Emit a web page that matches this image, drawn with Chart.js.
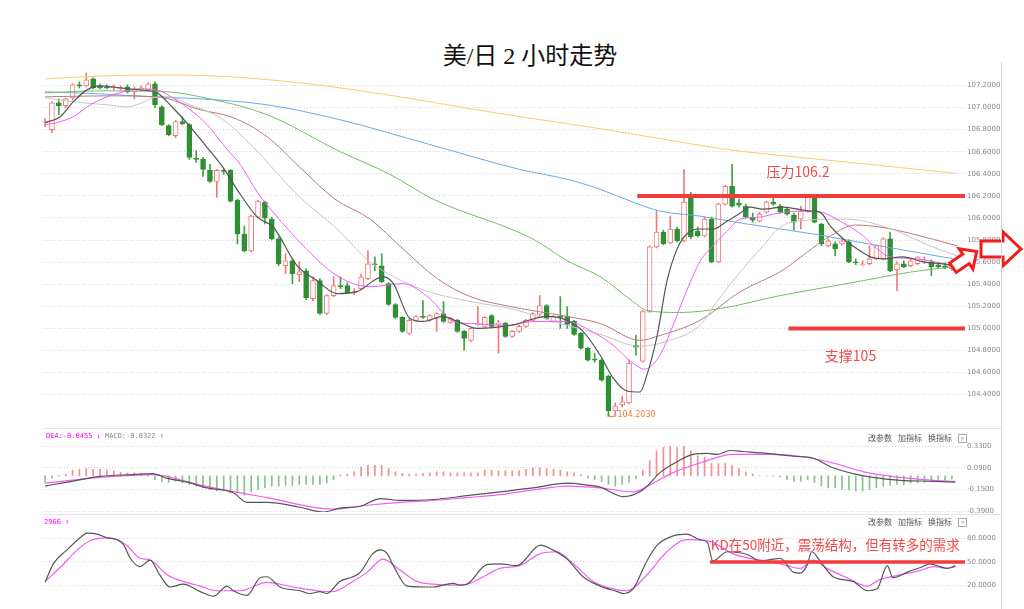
<!DOCTYPE html>
<html>
<head>
<meta charset="utf-8">
<script src="https://cdn.jsdelivr.net/npm/chart.js@4.4.0/dist/chart.umd.min.js"></script>
<style>
  body { margin: 0; background: #fff; width: 1024px; height: 609px; overflow: hidden; position: relative; }
  canvas { position: absolute; left: 0; }
  #title { position: absolute; left: 0; width: 1060px; top: 36px; text-align: center;
           font: 24px "Liberation Serif", "Noto Sans CJK SC", serif; color: #111; }
  .sep { position: absolute; background: #e4e4e4; }
  .head { position: absolute; font: 7px "DejaVu Sans Mono", monospace; white-space: nowrap; }
  .tools { position: absolute; left: 868px; font: 8px "Noto Sans CJK SC", sans-serif; color: #555; white-space: nowrap; }
  .tools span { margin-right: 6px; }
  .tools b { display: inline-block; width: 7px; height: 7px; border: 1px solid #aaa; font: 6px sans-serif;
             line-height: 7px; text-align: center; color: #888; font-weight: normal; vertical-align: middle; }
</style>
</head>
<body>
<div id="title">美/日 2 小时走势</div>
<canvas id="main" width="1024" height="368" style="top:60px"></canvas>
<canvas id="macd" width="1024" height="92" style="top:428px"></canvas>
<canvas id="kd" width="1024" height="95" style="top:514px"></canvas>
<div class="sep" style="left:43px;top:428px;width:958px;height:1px"></div>
<div class="sep" style="left:43px;top:514px;width:958px;height:1px"></div>
<div class="sep" style="left:1001px;top:62px;width:1px;height:547px;background:#d6d6d6"></div>
<div class="head" style="left:46px;top:432px"><span style="color:#f0f">DEA:-0.0455 ↓</span> <span style="color:#888">MACD:-0.0322 ↑</span></div>
<div class="head" style="left:44px;top:518px;color:#f0f">2966 ↑</div>
<div class="tools" style="top:432px"><span>改参数</span><span>加指标</span><span>换指标</span><b>×</b></div>
<div class="tools" style="top:516px"><span>改参数</span><span>加指标</span><span>换指标</span><b>×</b></div>
<script>
// 2h candles, oldest first
const openP = [106.863,106.8,107.043,107.016,107.088,107.205,107.196,107.259,107.196,107.187,
  107.178,107.169,107.187,107.142,107.169,107.16,107.214,107.007,106.836,106.746,
  106.872,106.845,106.539,106.53,106.431,106.332,106.431,106.431,106.161,105.855,
  105.702,106.008,106.143,105.99,105.81,105.567,105.612,105.486,105.522,105.27,
  105.432,105.135,105.297,105.387,105.387,105.324,105.36,105.45,105.585,105.567,
  105.405,105.216,105.099,104.955,105.072,105.108,105.072,105.09,105.135,105.054,
  105.072,104.973,104.892,105.036,105.018,105.117,105.036,105.045,104.928,104.973,
  105.018,105.072,105.126,105.207,105.063,105.108,105.108,105.063,104.955,104.82,
  104.721,104.712,104.568,104.253,104.307,104.325,104.847,104.703,105.153,105.738,
  105.873,105.774,105.9,105.792,106.215,105.882,105.837,105.99,105.603,106.125,
  106.287,106.134,106.107,106.008,105.972,106.053,106.143,106.107,106.08,106.026,
  105.99,106.062,106.197,105.945,105.747,105.765,105.765,105.783,105.603,105.576,
  105.585,105.63,105.63,105.81,105.531,105.585,105.567,105.585,105.612,105.603,
  105.576,105.567,105.54];
const highP = [106.899,107.052,107.079,107.088,107.214,107.232,107.313,107.268,107.214,107.205,
  107.205,107.196,107.205,107.187,107.196,107.223,107.232,107.016,106.845,106.881,
  106.917,106.854,106.611,106.548,106.485,106.44,106.44,106.44,106.17,105.927,
  106.026,106.161,106.152,106.008,105.828,105.675,105.63,105.603,105.54,105.468,
  105.45,105.306,105.468,105.468,105.414,105.36,105.495,105.702,105.648,105.675,
  105.414,105.225,105.108,105.081,105.117,105.252,105.126,105.144,105.243,105.099,
  105.081,104.982,105.009,105.198,105.108,105.126,105.072,105.054,104.982,105.027,
  105.081,105.144,105.297,105.216,105.117,105.288,105.198,105.072,104.964,104.829,
  104.775,104.721,104.577,104.325,104.388,104.712,104.937,105.162,105.747,106.062,
  105.891,106.017,105.918,106.44,106.233,105.918,106.008,106.008,106.134,106.296,
  106.485,106.17,106.125,106.044,106.053,106.152,106.197,106.125,106.098,106.044,
  106.107,106.215,106.206,105.954,105.81,105.783,105.81,105.801,105.63,105.612,
  105.747,105.756,105.819,105.873,105.603,105.612,105.63,105.648,105.648,105.621,
  105.594,105.594,105.603];
const lowP = [106.827,106.773,106.935,106.998,107.07,107.178,107.187,107.169,107.169,107.169,
  107.16,107.16,107.133,107.079,107.16,107.151,106.998,106.836,106.746,106.728,
  106.845,106.53,106.503,106.377,106.323,106.188,106.395,106.143,105.765,105.693,
  105.693,105.999,105.945,105.801,105.567,105.495,105.405,105.423,105.261,105.252,
  105.126,105.126,105.288,105.36,105.315,105.306,105.351,105.441,105.522,105.414,
  105.207,105.09,104.964,104.946,105.063,105.09,105.063,104.973,105.054,105.045,
  104.964,104.802,104.883,105.027,105.009,105.009,104.775,104.919,104.919,104.964,
  105.009,105.063,105.117,105.081,105.054,105.0,105.0,104.937,104.811,104.703,
  104.694,104.523,104.203,104.208,104.289,104.316,104.757,104.694,105.144,105.729,
  105.756,105.765,105.783,105.783,105.81,105.828,105.828,105.594,105.594,106.116,
  106.098,106.098,105.999,105.963,105.963,106.044,106.116,106.044,106.026,105.891,
  105.9,106.053,105.954,105.747,105.738,105.657,105.756,105.594,105.576,105.567,
  105.576,105.621,105.621,105.513,105.342,105.549,105.558,105.576,105.585,105.477,
  105.54,105.54,105.522];
const closeP = [106.872,107.043,107.016,107.079,107.205,107.196,107.25,107.178,107.178,107.178,
  107.187,107.178,107.142,107.169,107.178,107.214,107.025,106.845,106.755,106.872,
  106.854,106.548,106.53,106.44,106.332,106.431,106.422,106.152,105.855,105.702,
  106.017,106.152,105.999,105.81,105.585,105.612,105.495,105.513,105.279,105.432,
  105.135,105.297,105.387,105.378,105.324,105.333,105.468,105.585,105.576,105.423,
  105.216,105.099,104.973,105.072,105.108,105.099,105.117,105.135,105.063,105.09,
  104.973,104.91,105.0,105.045,105.099,105.018,105.045,104.928,104.973,105.018,
  105.072,105.135,105.207,105.09,105.108,105.099,105.036,104.946,104.82,104.712,
  104.712,104.532,104.253,104.298,104.334,104.685,104.829,105.153,105.738,105.873,
  105.765,105.9,105.792,106.143,105.828,105.837,105.99,105.603,106.125,106.287,
  106.107,106.116,106.008,105.981,106.035,106.143,106.125,106.053,106.035,105.963,
  106.062,106.197,105.963,105.765,105.792,105.72,105.792,105.603,105.594,105.585,
  105.63,105.747,105.81,105.522,105.585,105.558,105.612,105.648,105.621,105.558,
  105.558,105.549,105.573];

// moving averages: [bar position, price]
const ma5 = [[0,106.863],[2.2,106.917],[4.1,107.052],[6.1,107.16],[8,107.196],[10.9,107.178],[13.8,107.16],
  [16.3,107.133],[18.6,106.998],[21.1,106.827],[23.6,106.638],[25.9,106.458],[28.4,106.215],[30.9,106.008],
  [33.2,105.918],[36.7,105.567],[39.6,105.432],[42.5,105.315],[45.4,105.333],[49.2,105.468],[50.7,105.405],
  [53.1,105.09],[55,105.063],[57.9,105.108],[60,105.063],[62.9,105.0],[67.7,105.027],[73.1,105.108],
  [76,105.072],[78.3,104.973],[80.8,104.757],[82.7,104.55],[84.7,104.433],[86.6,104.424],[87.6,104.577],
  [89.1,104.937],[90.5,105.423],[92,105.72],[93.4,105.855],[95.3,105.9],[97.2,105.9],[99.3,105.972],
  [101.2,106.044],[102.6,106.098],[104.5,106.08],[107.4,106.098],[111.4,106.062],[112.8,106.053],
  [114.3,105.927],[116.2,105.81],[118.2,105.72],[120.1,105.648],[122,105.63],[124.9,105.648],
  [127.8,105.603],[130.7,105.585],[132.8,105.567]];
const ma10 = [[0,106.845],[1.7,106.863],[4.1,106.917],[6.6,107.025],[9,107.097],[11.4,107.142],[13.8,107.169],
  [16.3,107.16],[18.6,107.088],[21.1,106.98],[23.6,106.845],[25.9,106.665],[28.4,106.485],[30.9,106.233],
  [33.2,106.053],[37.6,105.747],[42.5,105.477],[47.3,105.378],[52.1,105.405],[56,105.27],[59.4,105.063],
  [61.9,105.045],[67.7,105.027],[71,105.063],[76,105.063],[79.3,104.982],[82.7,104.847],[85.2,104.703],
  [87.3,104.631],[89.5,104.757],[91.4,105.027],[93.4,105.342],[95.3,105.603],[97.2,105.747],[99.3,105.882],
  [101.2,105.99],[104.1,106.008],[106,106.035],[109.5,106.062],[112.8,106.053],[115.7,105.972],
  [119.1,105.837],[121.1,105.72],[123,105.648],[126.9,105.63],[130.7,105.585],[132.5,105.558]];
const ma20 = [[0,107.088],[4.1,107.052],[9,107.025],[11.9,107.007],[13.8,107.034],[15.7,107.088],[17.8,107.097],
  [21.1,107.025],[25.9,106.89],[30.9,106.602],[34.2,106.377],[37.1,106.188],[42.5,105.9],[47.3,105.603],
  [54.6,105.36],[61.9,105.243],[67.7,105.18],[76,105.027],[80.8,104.946],[86.6,104.838],[90.5,104.883],
  [95.3,105.027],[97.8,105.243],[101.2,105.513],[104.5,105.747],[107,105.918],[109.5,105.972],
  [116.7,105.99],[119.1,105.972],[124,105.882],[128.8,105.747],[132.8,105.657]];
const ma30 = [[0,107.097],[9,107.106],[16.3,107.097],[22.6,106.98],[27.4,106.908],[32.3,106.737],[37.1,106.458],
  [42.2,106.17],[47.3,105.99],[52.1,105.72],[57.1,105.45],[61.9,105.288],[67.7,105.198],[76,105.108],
  [80.8,105.045],[86.6,104.892],[89.1,104.928],[95.3,105.072],[101.2,105.333],[107,105.513],
  [114.3,105.837],[117.9,105.936],[121.5,105.918],[126.3,105.855],[132.8,105.747]];
const ma60 = [[0,107.133],[8,107.151],[17.8,107.142],[22.6,107.097],[32.3,106.935],[42.9,106.602],[50.2,106.395],
  [56.5,106.17],[71,105.81],[76,105.612],[80.8,105.468],[85.6,105.243],[87.6,105.162],[92.4,105.144],
  [98.3,105.18],[107,105.297],[116.7,105.405],[126.3,105.513],[132.2,105.558]];
const ma120 = [[0,107.142],[8,107.124],[15.7,107.097],[22.6,107.079],[32.3,107.025],[42.9,106.89],[56,106.665],
  [69.1,106.44],[76,106.35],[80.8,106.26],[85.6,106.143],[89.5,106.062],[95.3,106.017],[102.2,105.945],
  [111.8,105.855],[121.5,105.747],[132.2,105.63]];
const ma250 = [[0,107.259],[8,107.286],[17.8,107.295],[27.4,107.277],[37.1,107.223],[42.9,107.178],[51.7,107.097],
  [61.9,106.989],[72.1,106.89],[80.8,106.809],[89.5,106.719],[99.3,106.62],[109.9,106.548],[121.5,106.476],
  [132.5,106.404]];
const priceTicks = [104.4,104.6,104.8,105.0,105.2,105.4,105.6,105.8,106.0,106.2,106.4,106.6,106.8,107.0,107.2];

// MACD histogram, one per bar
const macdHist = [-0.071,-0.027,0.005,0.021,0.064,0.072,0.082,0.072,0.072,0.064,
  0.057,0.04,0.035,0.035,0.029,0.021,-0.043,-0.061,-0.072,-0.061,
  -0.078,-0.096,-0.114,-0.132,-0.15,-0.168,-0.168,-0.185,-0.185,-0.214,
  -0.179,-0.15,-0.132,-0.114,-0.114,-0.107,-0.107,-0.096,-0.096,-0.096,
  -0.096,-0.078,-0.043,0.011,0.021,0.046,0.1,0.118,0.118,0.118,
  0.082,0.046,0.029,0.021,0.021,0.029,0.035,0.046,0.046,0.035,
  0.035,0.035,0.035,0.035,0.064,0.064,0.057,0.057,0.057,0.057,
  0.072,0.093,0.093,0.082,0.072,0.064,0.046,0.035,0.011,-0.025,
  -0.043,-0.061,-0.096,-0.114,-0.096,-0.072,-0.035,0.064,0.171,0.278,
  0.314,0.332,0.314,0.332,0.278,0.225,0.207,0.136,0.136,0.142,
  0.118,0.082,0.046,0.021,0,0,-0.007,-0.011,-0.043,-0.061,
  -0.061,-0.043,-0.072,-0.114,-0.132,-0.132,-0.15,-0.157,-0.168,-0.168,
  -0.15,-0.132,-0.114,-0.107,-0.096,-0.096,-0.078,-0.078,-0.072,-0.061,
  -0.05,-0.043,-0.035];
const macdDif = [[0,-0.113],[3.2,-0.07],[8,-0.006],[12.8,0.015],[15.7,0.026],[17.8,-0.028],[20.7,-0.07],
  [23.6,-0.134],[27.4,-0.188],[29.4,-0.294],[32.3,-0.294],[37.1,-0.348],[40.5,-0.401],[42.9,-0.358],
  [45.9,-0.337],[48.8,-0.252],[51.7,-0.273],[56.5,-0.262],[61.4,-0.22],[66.2,-0.177],[71,-0.134],
  [76,-0.081],[78.9,-0.102],[80.8,-0.124],[84.1,-0.23],[87,-0.156],[89.5,0.036],[91.4,0.132],
  [94.3,0.239],[96.4,0.25],[97.8,0.239],[99.7,0.282],[101.6,0.271],[105.1,0.25],[108.9,0.218],
  [111.8,0.196],[114.7,0.09],[117.6,0.026],[120.5,-0.017],[124.5,-0.049],[129.3,-0.06],[132.5,-0.07]];
const macdDea = [[0,-0.081],[8,-0.017],[15.7,0.015],[22.6,-0.102],[32.3,-0.241],[41.9,-0.369],[46.9,-0.326],
  [51.7,-0.294],[56.5,-0.273],[61.4,-0.241],[66.2,-0.209],[71,-0.156],[76,-0.113],[80.8,-0.134],
  [85.6,-0.177],[88.5,-0.081],[91.4,0.036],[95.3,0.143],[100.1,0.239],[105.1,0.239],[109.9,0.218],
  [114.7,0.143],[119.7,0.036],[124.5,-0.017],[129.3,-0.049],[132.5,-0.06]];
const macdTicks = [0.33, 0.09, -0.15, -0.39];

const kdK = [[0,24.1],[1.2,47.6],[3.2,65.3],[5.1,80.6],[6.1,86.5],[7.6,85.3],[9,80.6],[10.5,78.2],[11.4,72.3],
  [12.4,54.7],[13.8,44.1],[15.3,52.4],[16.7,33.5],[18.2,18.2],[20.1,21.8],[22.6,12.4],[24.5,6.5],[26.5,19.4],
  [27.4,13.5],[29.4,7.7],[31.3,30],[32.3,31.2],[34.2,18.2],[37.1,13.5],[38.6,10],[40,12.4],[41,10],
  [42.9,25.3],[44.8,31.2],[45.9,37.1],[47.7,60.6],[48.8,65.3],[49.8,60.6],[50.7,45.3],[52.7,19.4],
  [56.5,18.2],[59.4,22.9],[60.4,20.6],[61.4,21.8],[64.3,46.5],[66.2,47.6],[68.7,45.3],[72.1,71.2],
  [73.9,65.3],[76,53.5],[78.3,31.2],[80.8,19.4],[83.3,12.4],[84.1,10],[85.6,15.9],[87.6,51.2],
  [89.1,71.2],[91.4,82.9],[93.4,85.3],[95.3,78.2],[96.4,74.7],[97.2,51.2],[99.3,62.9],[102.2,59.4],
  [104.1,51.2],[106,53.5],[107,54.7],[108.9,37.1],[109.9,35.9],[110.9,45.3],[111.6,62.9],[112.8,51.2],
  [114.7,31.2],[117.6,25.3],[119.7,13.5],[121.1,15.9],[122.6,45.3],[123.4,30],[125.5,37.1],[127.4,42.9],
  [128.8,47.6],[130.3,44.1],[131.3,41.8],[132.5,45.3]];
const kdD = [[0,25.3],[2.2,42.9],[4.7,65.3],[6.6,77.1],[9,80.6],[10.5,78.2],[11.9,71.2],[13.8,54.7],[15.3,52.4],
  [17.8,33.5],[20.1,25.3],[22.6,19.4],[25,13.5],[28.4,13.5],[32.3,24.1],[36.1,18.2],[39.6,13.5],[41.9,12.4],
  [44.8,25.3],[46.9,37.1],[49.2,53.5],[51.7,39.4],[54.1,25.3],[56.5,21.8],[59.4,20.6],[61.4,21.8],
  [64.3,33.5],[66.2,41.8],[69.1,45.3],[72.1,60.6],[74.5,62.9],[76.9,47.6],[79.8,25.3],[82.7,15.9],
  [84.7,13.5],[87.6,33.5],[90.5,62.9],[93.4,78.2],[96.4,77.1],[100.1,60.6],[103.1,53.5],[105.1,51.2],
  [108,45.3],[109.9,41.8],[111.8,52.4],[113.8,41.8],[116.7,30],[119.7,19.4],[121.5,27.6],[124.5,33.5],
  [127.4,39.4],[129.3,44.1],[131.3,41.8],[132.5,44.1]];
const kdTicks = [80, 50, 20];

// notes drawn on the chart
const resistLevel = 106.2, resistFrom = 86.2, resistText = "压力106.2", resistTextAt = [105, 106.42];
const supportLevel = 105.0, supportFrom = 108.2, supportText = "支撑105", supportTextAt = [113.5, 104.757];
const lowIdx = 82, lowText = "104.2030";
const kdLevel = 50, kdFrom = 96.8, kdText = "KD在50附近，震荡结构，但有转多的需求", kdTextAt = [96.9, 71.2];

const RED = "#f07a7a", GREEN = "#2f8f35", NOTE = "#f23c3c";
const xMin = -0.3, xMax = 133.9;
const bars = openP.map((_, i) => i);
const isUp = (i) => closeP[i] >= openP[i];
const pts = (arr) => arr.map(([x, y]) => ({ x, y }));

function maLine(arr, color, width) {
  return {
    type: "line",
    data: pts(arr),
    borderColor: color,
    borderWidth: width || 1,
    pointRadius: 0,
    cubicInterpolationMode: "monotone"
  };
}

function rightAxis(min, max, ticks, fmt) {
  return {
    position: "right",
    min,
    max,
    afterBuildTicks: (scale) => { scale.ticks = ticks.map((v) => ({ value: v })); },
    afterFit: (scale) => { scale.width = 35; },
    ticks: {
      callback: fmt,
      font: { size: 7, family: "DejaVu Sans" },
      color: "#888",
      padding: 2
    },
    grid: { color: "#d4d4d4", drawTicks: false },
    border: { display: false, dash: [1, 2] }
  };
}

function baseOptions(padTop, padBottom, yAxis) {
  return {
    animation: false,
    responsive: false,
    layout: { padding: { left: 43, right: 24, top: padTop, bottom: padBottom } },
    plugins: { legend: { display: false }, tooltip: { enabled: false } },
    scales: {
      x: { type: "linear", min: xMin, max: xMax, display: false, offset: false },
      y: yAxis
    }
  };
}

function drawArrow(ctx, cx, cy, angle, k) {
  const shape = [[-22, -8], [0, -8], [0, -17], [18, 0], [0, 17], [0, 8], [-22, 8]];
  ctx.save();
  ctx.translate(cx, cy);
  ctx.rotate(angle);
  ctx.scale(k, k);
  ctx.beginPath();
  shape.forEach(([px, py], n) => (n ? ctx.lineTo(px, py) : ctx.moveTo(px, py)));
  ctx.closePath();
  ctx.fillStyle = "#fff";
  ctx.fill();
  ctx.lineWidth = 3 / k;
  ctx.strokeStyle = "#f01e1e";
  ctx.lineJoin = "miter";
  ctx.stroke();
  ctx.restore();
}

const mainNotes = {
  id: "mainNotes",
  afterDraw(chart) {
    const { ctx, chartArea: a, scales: { x, y } } = chart;
    ctx.save();
    ctx.strokeStyle = NOTE;
    ctx.lineWidth = 4;
    [[resistLevel, resistFrom], [supportLevel, supportFrom]].forEach(([lvl, from]) => {
      const py = y.getPixelForValue(lvl);
      ctx.beginPath();
      ctx.moveTo(x.getPixelForValue(from), py);
      ctx.lineTo(a.right, py);
      ctx.stroke();
    });
    ctx.fillStyle = "#f24a4a";
    ctx.font = "14px 'Noto Sans CJK SC'";
    ctx.textBaseline = "middle";
    ctx.fillText(resistText, x.getPixelForValue(resistTextAt[0]), y.getPixelForValue(resistTextAt[1]));
    ctx.fillText(supportText, x.getPixelForValue(supportTextAt[0]), y.getPixelForValue(supportTextAt[1]));

    // lowest price tag
    const lx = x.getPixelForValue(lowIdx), ly = y.getPixelForValue(lowP[lowIdx]);
    ctx.strokeStyle = "#f07a30";
    ctx.lineWidth = 1;
    ctx.beginPath();
    ctx.moveTo(lx + 1, ly - 2);
    ctx.lineTo(lx + 1, ly);
    ctx.lineTo(lx + 7, ly);
    ctx.stroke();
    ctx.fillStyle = "#f07a30";
    ctx.font = "8px 'DejaVu Sans'";
    ctx.fillText(lowText, lx + 9, ly - 1);

    drawArrow(ctx, a.right + 38, y.getPixelForValue(105.72), 0, 1);
    drawArrow(ctx, a.right + 1, y.getPixelForValue(105.63), -0.6, 0.72);
    ctx.restore();
  }
};

const kdNotes = {
  id: "kdNotes",
  afterDatasetsDraw(chart) {
    const { ctx, chartArea: a, scales: { x, y } } = chart;
    ctx.save();
    ctx.strokeStyle = NOTE;
    ctx.lineWidth = 3.5;
    const py = y.getPixelForValue(kdLevel);
    ctx.beginPath();
    ctx.moveTo(x.getPixelForValue(kdFrom), py);
    ctx.lineTo(a.right, py);
    ctx.stroke();
    ctx.fillStyle = "#f24a4a";
    ctx.font = "13.5px 'Noto Sans CJK SC'";
    ctx.textBaseline = "middle";
    ctx.fillText(kdText, x.getPixelForValue(kdTextAt[0]), y.getPixelForValue(kdTextAt[1]));
    ctx.restore();
  }
};

new Chart(document.getElementById("main"), {
  type: "bar",
  data: {
    datasets: [
      maLine(ma5, "#555", 1.2),
      maLine(ma10, "#f55cf5"),
      maLine(ma20, "#c6c6c6"),
      maLine(ma30, "#b77c7c"),
      maLine(ma60, "#70bf60"),
      maLine(ma120, "#68ace6"),
      maLine(ma250, "#ffc870"),
      {
        type: "bar",
        data: bars.map((i) => ({ x: i, y: [openP[i], closeP[i]] })),
        backgroundColor: (c) => (isUp(c.dataIndex) ? "#fff" : GREEN),
        borderColor: (c) => (isUp(c.dataIndex) ? RED : GREEN),
        borderWidth: 1,
        borderSkipped: false,
        barThickness: 5,
        minBarLength: 1,
        grouped: false
      },
      {
        type: "bar",
        data: bars.map((i) => ({ x: i, y: [lowP[i], highP[i]] })),
        backgroundColor: (c) => (isUp(c.dataIndex) ? RED : "#45a045"),
        barThickness: 1,
        grouped: false
      }
    ]
  },
  options: baseOptions(10, 4, rightAxis(104.154, 107.34, priceTicks, (v) => v.toFixed(4))),
  plugins: [mainNotes]
});

new Chart(document.getElementById("macd"), {
  type: "bar",
  data: {
    datasets: [
      maLine(macdDif, "#555", 1.2),
      maLine(macdDea, "#f55cf5", 1.2),
      {
        type: "bar",
        data: bars.map((i) => ({ x: i, y: macdHist[i] })),
        backgroundColor: (c) => (macdHist[c.dataIndex] >= 0 ? "#f29090" : "#86c486"),
        barThickness: 1,
        grouped: false
      }
    ]
  },
  options: baseOptions(4, 8, rightAxis(-0.401, 0.463, macdTicks, (v) => v.toFixed(4)))
});

new Chart(document.getElementById("kd"), {
  type: "line",
  data: {
    datasets: [
      maLine(kdK, "#555", 1.2),
      maLine(kdD, "#f55cf5", 1.2)
    ]
  },
  options: baseOptions(2, 4, rightAxis(-1.8, 102.9, kdTicks, (v) => v.toFixed(4))),
  plugins: [kdNotes]
});
</script>
</body>
</html>
